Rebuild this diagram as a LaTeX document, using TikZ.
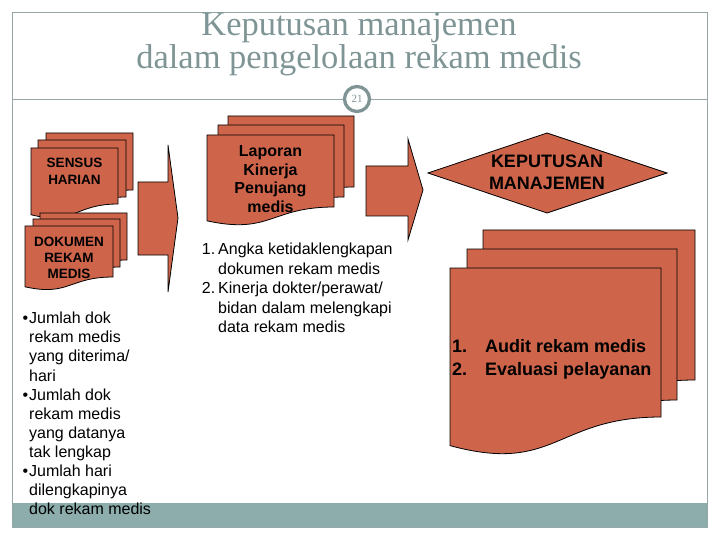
\documentclass[tikz,border=0pt]{standalone}
\usepackage{fontspec}
\setmainfont{Liberation Serif}
\setsansfont{Liberation Sans}

\definecolor{bata}{RGB}{206,101,75}
\definecolor{abu}{RGB}{127,149,149}
\definecolor{garis}{RGB}{150,166,166}
\definecolor{pita}{RGB}{141,172,172}

\tikzset{
  page/.style={draw=black, fill=bata, line width=0.8pt},
  tulis/.style={inner sep=0pt, align=left, text=black},
  judul/.style={inner sep=0pt, align=center, text=abu}
}

% lembar dokumen: x, y, lebar, tinggi sisi kanan
\newcommand{\docpage}[4]{%
  \draw[page] (#1,#2) -- ++(#3,0) -- ++(0,#4)
    .. controls (#1+0.5*#3,#2+#4) and (#1+0.5*#3,#2+1.385*#4) .. (#1,#2+1.192*#4) -- cycle;}

\begin{document}
\begin{tikzpicture}[x=1pt,y=-1pt]
\useasboundingbox (0,0) rectangle (720,540);
%\draw[step=20,gray!30,very thin] (0,0) grid (720,540); %background grid
\fill[pita] (12,503) rectangle (707,527);
\draw[garis, line width=0.8pt] (12,12) rectangle (707,527);
\draw[garis, line width=0.8pt] (12,99) -- (707,99);
\node[judul, font=\fontsize{34.5}{33}\selectfont] (title) at (359,44) {Keputusan manajemen\\dalam pengelolaan rekam medis};
\draw[abu, line width=3.3pt, fill=white] (357,99) circle (12.5pt);
\node[judul, font=\fontsize{11}{11}\selectfont] (pgnum) at (357,99) {21};

% sensus harian
\docpage{46}{133}{87}{57}
\docpage{38}{140}{88}{57}
\docpage{31}{148}{87}{56}
\node[tulis, align=center, font=\sffamily\bfseries\fontsize{13.5}{17}\selectfont] (sensus) at (74.5,171) {SENSUS\\HARIAN};

% dokumen rekam medis
\docpage{40}{213}{87}{47}
\docpage{33}{219}{87}{48}
\docpage{25}{226}{88}{51}
\node[tulis, align=center, font=\sffamily\bfseries\fontsize{13.5}{16}\selectfont] (dokumen) at (69,257.5) {DOKUMEN\\REKAM\\MEDIS};

\node[tulis, anchor=west, font=\sffamily\fontsize{16}{19.1}\selectfont] (jumlah) at (29,413.5) {\llap{\textbullet\hspace{1pt}}Jumlah dok\\rekam medis\\yang diterima/\\hari\\\llap{\textbullet\hspace{1pt}}Jumlah dok\\rekam medis\\yang datanya\\tak lengkap\\\llap{\textbullet\hspace{1pt}}Jumlah hari\\dilengkapinya\\dok rekam medis};

% panah besar
\draw[page] (138,182) -- (168,182) -- (168,145) -- (178,218) -- (168,292) -- (168,255) -- (138,255) -- cycle;
\draw[page] (366,166) -- (408,166) -- (408,139) -- (423,190) -- (408,240) -- (408,216) -- (366,216) -- cycle;

% laporan kinerja
\docpage{228}{116}{126}{71}
\docpage{218}{125}{126}{72}
\docpage{207}{135}{127}{72}
\node[tulis, align=center, font=\sffamily\bfseries\fontsize{16}{18.7}\selectfont] (laporan) at (270.5,179) {Laporan\\Kinerja\\Penujang\\medis};

\node[tulis, anchor=west, font=\sffamily\fontsize{16}{19.5}\selectfont] (angka) at (218,288) {\llap{1.\hspace{3pt}}Angka ketidaklengkapan\\dokumen rekam medis\\\llap{2.\hspace{3pt}}Kinerja dokter/perawat/\\bidan dalam melengkapi\\data rekam medis};

% keputusan
\draw[page] (428,173) -- (547,133) -- (667,173) -- (547,213) -- cycle;
\node[tulis, align=center, font=\sffamily\bfseries\fontsize{18}{21.5}\selectfont] (keputusan) at (547,172.5) {KEPUTUSAN\\MANAJEMEN};

\docpage{483}{230}{212}{150}
\docpage{467}{249}{210}{151}
\docpage{450}{268}{211}{149}
\node[tulis, anchor=west, font=\sffamily\bfseries\fontsize{18}{23}\selectfont] (audit) at (452,359) {\makebox[33pt][l]{1.}Audit rekam medis\\\makebox[33pt][l]{2.}Evaluasi pelayanan};
\end{tikzpicture}
\end{document}
